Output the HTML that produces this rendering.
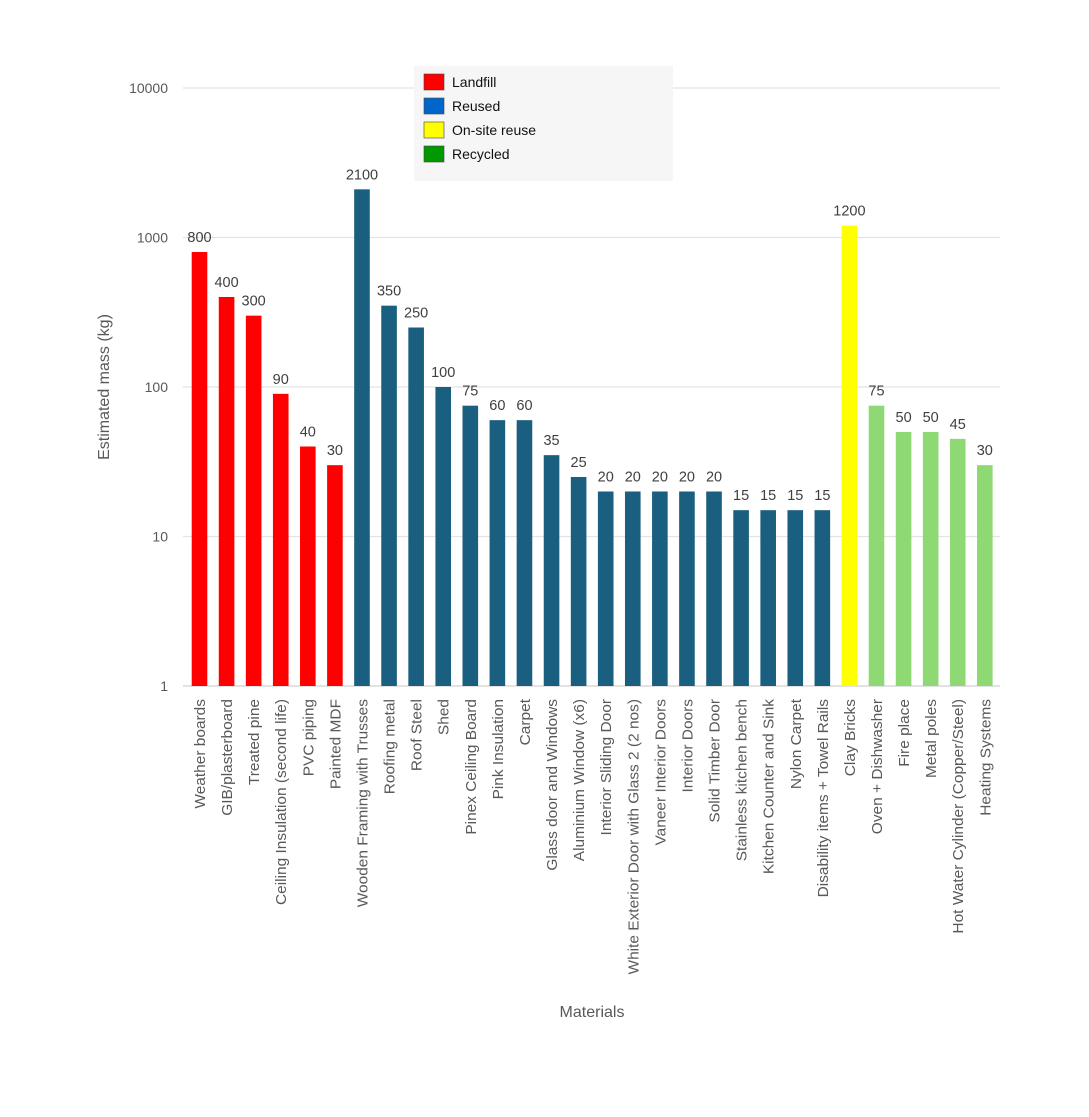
<!DOCTYPE html>
<html><head><meta charset="utf-8"><style>
body{margin:0;background:#fff}
svg{display:block;font-family:"Liberation Sans",sans-serif}
</style></head><body>
<svg id="chart" width="1089" height="1117">
<g id="grid"></g><g id="bars"></g><g id="labels"></g>
<text x="592" y="1017" font-size="16" fill="#595959" text-anchor="middle">Materials</text>
<text transform="translate(109,387) rotate(-90)" font-size="16" fill="#595959" text-anchor="middle">Estimated mass (kg)</text>
<g>
<rect x="414" y="66" width="259" height="115" fill="#f6f6f6"/>
<g id="legend"></g>
</g>
</svg>
<script>
const categories=["Weather boards","GIB/plasterboard","Treated pine","Ceiling Insulation (second life)","PVC piping","Painted MDF","Wooden Framing with Trusses","Roofing metal","Roof Steel","Shed","Pinex Ceiling Board","Pink Insulation","Carpet","Glass door and Windows","Aluminium Window (x6)","Interior Sliding Door","White Exterior Door with Glass 2 (2 nos)","Vaneer Interior Doors","Interior Doors","Solid Timber Door","Stainless kitchen bench","Kitchen Counter and Sink","Nylon Carpet","Disability items + Towel Rails","Clay Bricks","Oven + Dishwasher","Fire place","Metal poles","Hot Water Cylinder (Copper/Steel)","Heating Systems"];
const values=[800,400,300,90,40,30,2100,350,250,100,75,60,60,35,25,20,20,20,20,20,15,15,15,15,1200,75,50,50,45,30];
const groups=[0,0,0,0,0,0,1,1,1,1,1,1,1,1,1,1,1,1,1,1,1,1,1,1,2,3,3,3,3,3];
const groupNames=["Landfill","Reused","On-site reuse","Recycled"];
const barColors=["#ff0000","#1a5e80","#ffff00","#8fd975"];
const legendColors=["#ff0000","#0066cc","#ffff00","#009900"];
const yTicks=[1,10,100,1000,10000];
const NS="http://www.w3.org/2000/svg";
const y=v=>686-Math.log10(v)*149.5;
const x=i=>199.5+i*27.08;
function mk(t,a,p){const e=document.createElementNS(NS,t);for(const k in a)e.setAttribute(k,a[k]);p.appendChild(e);return e;}
const grid=document.getElementById('grid');
yTicks.forEach(t=>{
 const l=mk('line',{x1:183,x2:1000,y1:y(t),y2:y(t),stroke:t===1?'#d0d0d0':'#e3e3e3','stroke-width':1.3},grid);
 
 
 const tx=mk('text',{x:168,y:y(t)+5,'font-size':14,fill:'#595959','text-anchor':'end'},grid);
 tx.textContent=t;
 
 
});
const bars=document.getElementById('bars'),labs=document.getElementById('labels');
values.forEach((v,i)=>{
 const r=mk('rect',{x:x(i)-7.8,y:y(v),width:15.6,height:686-y(v),fill:barColors[groups[i]]},bars);
 
 
 const vt=mk('text',{x:x(i),y:y(v)-10,'font-size':14.5,fill:'#404040','text-anchor':'middle'},labs);
 vt.textContent=v;
 
 
 const ct=mk('text',{transform:`translate(${x(i)+5.5},699) rotate(-90) scale(1.03,1)`,'font-size':15,fill:'#595959','text-anchor':'end'},labs);
 ct.textContent=categories[i];
 
 
});
const lg=document.getElementById('legend');
groupNames.forEach((n,i)=>{
 const yy=74+i*24;
 const s=mk('rect',{x:424,y:yy,width:20,height:16,fill:legendColors[i],stroke:'#444','stroke-width':0.6},lg);
 
 
 const t=mk('text',{x:452,y:yy+13,'font-size':14,fill:'#111'},lg);
 t.textContent=n;
 
 
});
</script>
</body></html>
